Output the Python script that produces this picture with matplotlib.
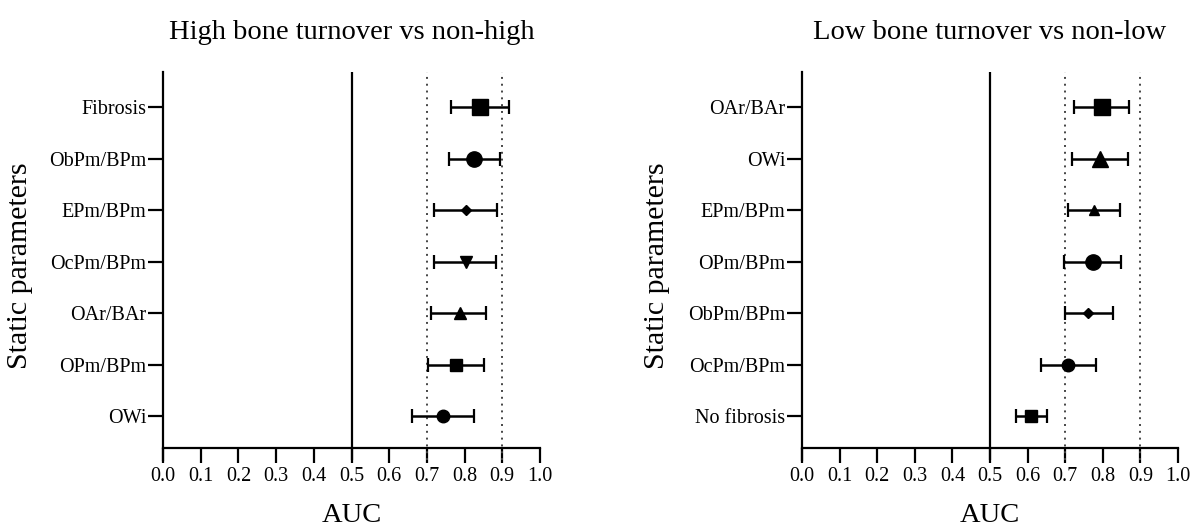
import matplotlib
matplotlib.use('Agg')
import matplotlib.pyplot as plt
import numpy as np

plt.rcParams['font.family'] = ['Liberation Serif', 'DejaVu Serif']

# 左图: High bone turnover vs non-high (从上到下)
high_labels = ['Fibrosis', 'ObPm/BPm', 'EPm/BPm', 'OcPm/BPm', 'OAr/BAr', 'OPm/BPm', 'OWi']
high_auc = [0.842, 0.825, 0.803, 0.803, 0.788, 0.776, 0.744]
high_low = [0.763, 0.759, 0.719, 0.719, 0.712, 0.702, 0.660]
high_up = [0.918, 0.895, 0.886, 0.884, 0.857, 0.851, 0.826]
high_markers = ['s', 'o', 'D', 'v', '^', 's', 'o']
high_sizes = [12, 11, 5.5, 8, 8, 9, 9]

# 右图: Low bone turnover vs non-low
low_labels = ['OAr/BAr', 'OWi', 'EPm/BPm', 'OPm/BPm', 'ObPm/BPm', 'OcPm/BPm', 'No fibrosis']
low_auc = [0.797, 0.792, 0.776, 0.774, 0.760, 0.707, 0.609]
low_low = [0.723, 0.717, 0.707, 0.697, 0.700, 0.635, 0.569]
low_up = [0.869, 0.866, 0.845, 0.849, 0.828, 0.783, 0.651]
low_markers = ['s', '^', '^', 'o', 'D', 'o', 's']
low_sizes = [12, 11, 7, 11, 5.5, 9, 9]

titles = ['High bone turnover vs non-high', 'Low bone turnover vs non-low']
xticks = [round(0.1 * i, 1) for i in range(11)]

fig = plt.figure(figsize=(11.98, 5.28), dpi=100)
ax1 = fig.add_axes([163 / 1198, 68 / 528, 377 / 1198, 388 / 528])
ax2 = fig.add_axes([802 / 1198, 68 / 528, 376 / 1198, 388 / 528])

panels = [
    (ax1, high_labels, high_auc, high_low, high_up, high_markers, high_sizes),
    (ax2, low_labels, low_auc, low_low, low_up, low_markers, low_sizes),
]

for i, (ax, labels, auc, lo, up, markers, sizes) in enumerate(panels):
    n = len(labels)
    ypos = np.arange(n)[::-1]  # 第一个在最上
    ax.axvline(0.5, color='black', lw=1.6)
    ax.axvline(0.7, color='#444444', lw=1.4, ls=(0, (1, 2.5)))
    ax.axvline(0.9, color='#444444', lw=1.4, ls=(0, (1, 2.5)))
    for j in range(n):
        xerr = [[auc[j] - lo[j]], [up[j] - auc[j]]]
        ax.errorbar(auc[j], ypos[j], xerr=xerr, fmt=markers[j], ms=sizes[j],
                    color='black', ecolor='black', elinewidth=1.8, capsize=5,
                    capthick=1.6, zorder=3)
    ax.set_xlim(0, 1.0)
    ax.set_ylim(-0.854, 6.68)
    ax.spines['top'].set_visible(False)
    ax.spines['right'].set_visible(False)
    ax.spines['bottom'].set_position(('data', -0.621))
    ax.spines['left'].set_linewidth(1.6)
    ax.spines['bottom'].set_linewidth(1.6)
    ax.set_xticks(xticks)
    ax.set_xticklabels(['%.1f' % t for t in xticks], fontsize=14.5)
    ax.set_yticks(ypos)
    ax.set_yticklabels(labels, fontsize=14.5)
    ax.tick_params(axis='x', direction='out', length=11, width=1.6, pad=3)
    ax.tick_params(axis='y', direction='out', length=11, width=1.6, pad=1)
    ax.set_xlabel('AUC', fontsize=20.5, labelpad=12)
    ax.set_ylabel('Static parameters', fontsize=21.5)
    ax.set_title(titles[i], fontsize=20.5, pad=24)

ax1.yaxis.set_label_coords(-0.345, 0.5)
ax2.yaxis.set_label_coords(-0.351, 0.5)

plt.savefig('out.png', dpi=100)
